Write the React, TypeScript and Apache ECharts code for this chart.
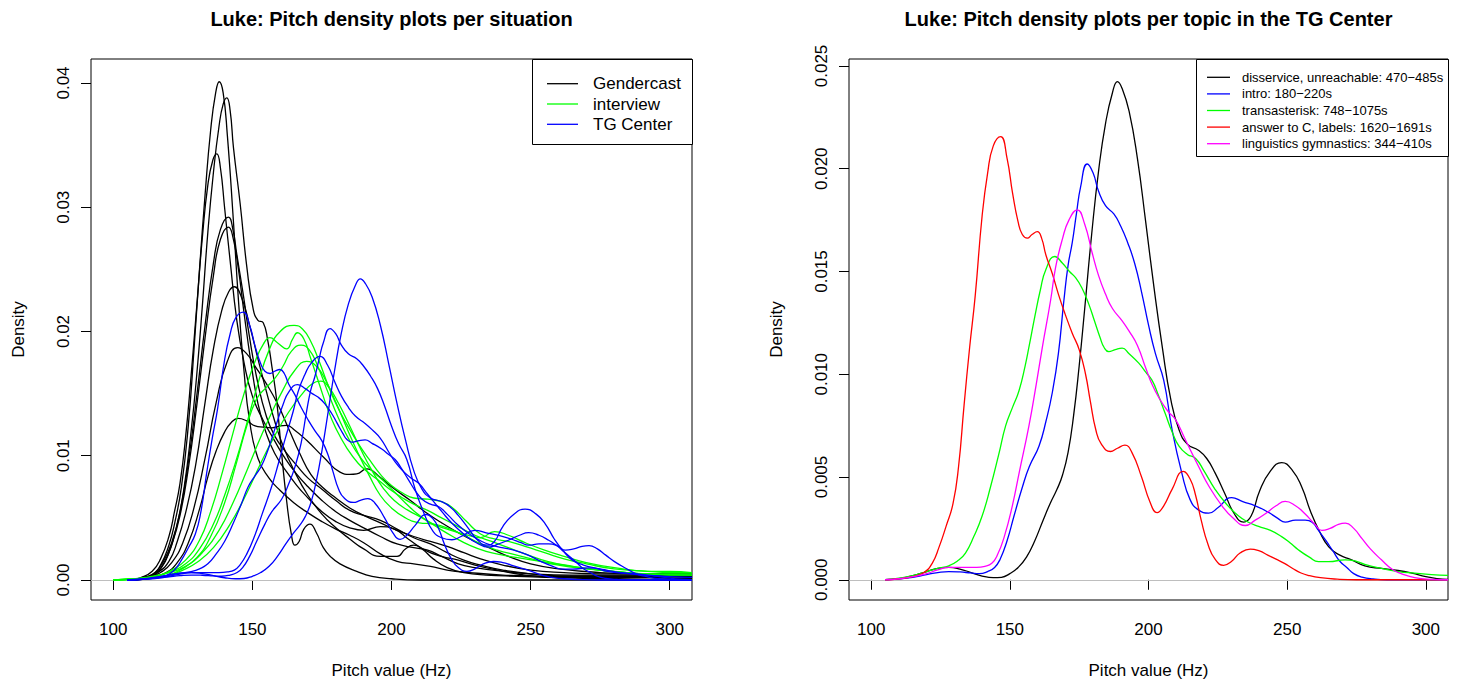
import React, { useEffect, useRef } from "react";
import * as echarts from "echarts";

type Pt = [number, number];

const FONT = "'Liberation Sans', Arial, Helvetica, sans-serif";

// ---------- tick values ----------
const xTicks = [100, 150, 200, 250, 300];
const leftYTicks = [0, 0.01, 0.02, 0.03, 0.04];
const rightYTicks = [0, 0.005, 0.01, 0.015, 0.02, 0.025];

// ---------- left panel: situations ----------
const situationNames = ["Gendercast", "interview", "TG Center"];
const situationColors = ["#000000", "#00ff00", "#0000ff"];

const gendercast1: Pt[] = [[106,0],[110,0.0001],[114,0.0004],[117,0.0012],[120,0.0028],[122,0.0045],[124.5,0.0075],[127,0.0125],[129,0.0185],[131,0.025],[133,0.031],[135,0.0362],[136.8,0.0392],[138.1,0.0401],[139.5,0.0392],[141,0.0358],[143,0.0295],[145,0.0225],[147,0.0168],[149,0.0128],[152,0.0098],[156,0.0082],[160,0.0072],[165,0.0062],[170,0.0054],[175,0.0047],[180,0.0041],[185,0.0036],[190,0.003],[196,0.0021],[202,0.0015],[208,0.0013],[214,0.0011],[220,0.0008],[228,0.0006],[240,0.0004],[255,0.0003],[270,0.0003],[285,0.0003],[300,0.0003],[308,0.0003]];
const gendercast2: Pt[] = [[106,0],[110,0.0001],[114,0.0003],[117,0.0009],[120,0.0022],[123,0.0045],[125.5,0.0075],[128,0.012],[130,0.0165],[132,0.022],[134,0.028],[136,0.0328],[138,0.0365],[139.5,0.0383],[140.8,0.0388],[142,0.0378],[143.2,0.0348],[145.6,0.0303],[148,0.0252],[150.3,0.0218],[152,0.0209],[153.9,0.0207],[155.5,0.0193],[157,0.0172],[158.7,0.0145],[160.5,0.0102],[162.3,0.0064],[164,0.0037],[165.3,0.0028],[166.8,0.0031],[168.5,0.0041],[170.7,0.0045],[173,0.0038],[175.5,0.0026],[178,0.0019],[181.5,0.0013],[187.5,0.0007],[193,0.0003],[200,0.0001],[210,0],[308,0]];
const gendercast3: Pt[] = [[106,0],[110,0.0002],[114,0.0007],[117,0.0017],[120,0.0035],[122,0.0055],[124,0.0078],[126,0.0115],[128,0.0165],[130,0.022],[132,0.0275],[134,0.0318],[135.8,0.0338],[137.2,0.0343],[138.5,0.0332],[140,0.03],[142,0.0257],[144.4,0.0209],[147,0.0175],[150,0.0148],[154,0.0128],[158,0.0112],[162,0.0097],[166,0.0085],[170,0.0075],[175,0.0064],[180,0.0055],[185,0.0048],[190,0.0042],[196,0.0035],[202,0.0029],[208,0.0026],[213,0.0024],[218,0.0019],[224,0.0013],[230,0.001],[240,0.0007],[250,0.0005],[265,0.0004],[280,0.0004],[295,0.0004],[308,0.0004]];
const gendercast4: Pt[] = [[107,0],[111,0.0002],[115,0.0006],[118,0.0015],[121,0.003],[124,0.0055],[127,0.0095],[130,0.0148],[133,0.0205],[136,0.0255],[138.5,0.0282],[141.4,0.0292],[143,0.0282],[144.4,0.0262],[146.7,0.023],[149,0.0195],[152,0.0158],[155,0.0132],[158,0.0116],[162,0.0103],[166,0.0092],[170,0.0082],[175,0.0073],[180,0.0064],[185,0.0056],[190,0.0052],[196,0.0048],[202,0.0041],[208,0.0034],[214,0.0029],[220,0.0022],[226,0.0016],[232,0.0012],[240,0.0008],[250,0.0005],[265,0.0003],[280,0.0003],[295,0.0003],[308,0.0002]];
const gendercast5: Pt[] = [[107,0],[111,0.0002],[115,0.0005],[118,0.0013],[121,0.0028],[124,0.0052],[127,0.009],[130,0.014],[133,0.0195],[136,0.0245],[138.5,0.0274],[141.4,0.0284],[143,0.0276],[145,0.025],[147,0.0215],[149.5,0.0175],[152,0.0142],[155,0.0118],[158,0.0102],[162,0.0088],[166,0.0076],[170,0.0066],[175,0.0055],[180,0.0047],[185,0.0042],[190,0.004],[196,0.0043],[201,0.0041],[206,0.0033],[212,0.0024],[218,0.0019],[224,0.0016],[230,0.0012],[238,0.0008],[248,0.0004],[260,0.0002],[275,0.0001],[290,0.0002],[308,0.0003]];
const gendercast6: Pt[] = [[107,0],[112,0.0002],[116,0.0006],[120,0.0015],[123,0.0031],[126,0.0054],[129.5,0.0091],[133,0.0143],[136,0.0186],[139,0.0217],[141.5,0.0232],[143.5,0.0236],[146,0.0228],[149,0.0205],[152,0.0178],[155,0.0152],[158,0.0128],[161,0.0108],[165,0.0088],[170,0.0068],[175,0.0053],[180,0.0042],[185,0.0033],[190,0.0025],[196,0.0019],[202,0.0019],[205,0.0025],[208,0.0028],[211,0.0025],[215,0.0017],[220,0.001],[226,0.0006],[234,0.0004],[245,0.0003],[260,0.0002],[280,0.0002],[308,0.0001]];
const gendercast7: Pt[] = [[108,0],[113,0.0002],[117,0.0006],[121,0.0014],[125,0.003],[129,0.0058],[133,0.0098],[137,0.0143],[141,0.0176],[144.7,0.0187],[148,0.0182],[151,0.0172],[155,0.0158],[159,0.0142],[163,0.0122],[167,0.0102],[171,0.0085],[175,0.0075],[180,0.0066],[185,0.0058],[190,0.0052],[196,0.0046],[202,0.004],[208,0.0035],[214,0.0031],[220,0.0027],[226,0.0022],[232,0.0017],[240,0.0012],[250,0.0008],[262,0.0006],[275,0.0005],[290,0.0005],[308,0.0005]];
const gendercast8: Pt[] = [[106,0],[114,0.0002],[119,0.0006],[123,0.0014],[127,0.003],[131,0.0057],[134,0.0083],[137,0.0104],[140,0.0119],[142.5,0.0127],[144.9,0.013],[148,0.0128],[151,0.0124],[153.9,0.0123],[157,0.01225],[160,0.0124],[162.3,0.01244],[165,0.0121],[169.5,0.01124],[175.5,0.0099],[181.5,0.00868],[185,0.0085],[187.5,0.00854],[191.1,0.00894],[195.9,0.00827],[200,0.0075],[206.7,0.00641],[212,0.0055],[218,0.0046],[224,0.0038],[230,0.0031],[236,0.0025],[242,0.0019],[250,0.0013],[260,0.0009],[275,0.0006],[290,0.0005],[308,0.0005]];

const interview1: Pt[] = [[100,0],[108,0.0001],[115,0.0003],[121,0.0007],[126,0.0013],[131,0.0025],[136,0.0045],[140,0.0068],[144,0.0095],[148,0.0126],[152,0.0158],[156,0.0185],[160,0.02],[165,0.0205],[168,0.0202],[171,0.0192],[174,0.0176],[177,0.0158],[180,0.0142],[184,0.0125],[188,0.011],[192,0.0097],[196,0.0085],[200,0.0076],[204,0.007],[208,0.0066],[213,0.0065],[218,0.0063],[222,0.0058],[227,0.0047],[232,0.0037],[237,0.0033],[242,0.0031],[248,0.0027],[255,0.0022],[262,0.0017],[270,0.0013],[280,0.0009],[292,0.0007],[300,0.0006],[308,0.0006]];
const interview2: Pt[] = [[100,0],[108,0.0001],[115,0.0003],[121,0.0008],[126,0.0016],[131,0.0032],[135,0.0055],[139,0.0085],[143,0.0118],[147,0.015],[151,0.0176],[154,0.019],[156.3,0.0195],[159,0.0191],[162.3,0.0186],[164.5,0.0194],[166.2,0.0199],[168.5,0.0194],[171,0.0178],[174,0.0158],[177,0.0138],[180,0.0122],[184,0.0106],[188,0.0094],[192,0.0086],[196,0.0079],[200,0.0072],[204,0.0066],[208,0.0061],[213,0.0056],[218,0.005],[224,0.0043],[230,0.0036],[236,0.0031],[242,0.0026],[248,0.0021],[256,0.0015],[265,0.0011],[275,0.0008],[290,0.0005],[308,0.0004]];
const interview3: Pt[] = [[100,0],[108,0.0001],[115,0.0002],[120,0.0004],[124,0.0008],[130,0.0018],[135,0.0035],[140,0.0062],[144,0.0092],[148,0.0124],[151.6,0.0146],[155,0.0155],[158,0.0162],[161,0.0172],[164,0.0184],[167.5,0.0189],[170.5,0.0185],[173.5,0.0172],[177,0.0152],[181,0.013],[185,0.0112],[189,0.0098],[193,0.0088],[197,0.008],[201,0.0071],[205,0.0062],[210,0.0052],[215,0.0045],[220,0.0041],[226,0.0037],[232,0.0034],[237,0.0039],[242,0.0036],[248,0.003],[255,0.0024],[262,0.0019],[270,0.0014],[280,0.001],[292,0.0007],[300,0.0007],[308,0.0006]];
const interview4: Pt[] = [[102,0],[108,0.0001],[114,0.0003],[120,0.0006],[126,0.0011],[132,0.0022],[138,0.004],[143,0.0062],[148,0.0088],[153,0.0115],[157,0.0135],[161,0.0153],[165,0.0168],[169.5,0.0176],[173,0.0172],[176.5,0.016],[180,0.0143],[184,0.0122],[188,0.0102],[192,0.0084],[196,0.0068],[200,0.0058],[205,0.005],[210,0.0046],[215,0.0045],[220,0.0042],[226,0.0036],[232,0.0029],[238,0.0024],[245,0.002],[252,0.0016],[260,0.0012],[270,0.0009],[280,0.0007],[292,0.0005],[300,0.0005],[308,0.0005]];
const interview5: Pt[] = [[100,0],[108,0.0001],[114,0.0002],[120,0.0004],[125,0.0008],[130,0.0014],[136,0.0026],[142,0.0045],[148,0.007],[153,0.0094],[158,0.0116],[163,0.0135],[168,0.015],[171.5,0.0158],[174.5,0.016],[177.5,0.0155],[181,0.0142],[185,0.0124],[189,0.0105],[193,0.0088],[197,0.0074],[201,0.0064],[206,0.0056],[211,0.005],[216,0.0043],[222,0.0035],[228,0.0028],[234,0.0023],[240,0.002],[248,0.0017],[256,0.0014],[265,0.0011],[275,0.0008],[290,0.0005],[308,0.0004]];

const gendercastCurves = [gendercast1, gendercast2, gendercast3, gendercast4, gendercast5, gendercast6, gendercast7, gendercast8];
const interviewCurves = [interview1, interview2, interview3, interview4, interview5];

// ---------- right panel: topics in the TG Center ----------
const topicNames = [
  "disservice, unreachable: 470\u2212485s",
  "intro: 180\u2212220s",
  "transasterisk: 748\u22121075s",
  "answer to C, labels: 1620\u22121691s",
  "linguistics gymnastics: 344\u2212410s",
];
const topicColors = ["#000000", "#0000ff", "#00ff00", "#ff0000", "#ff00ff"];

const disservice: Pt[] = [[105,0],[110,0.00005],[115,0.0002],[120,0.0004],[124,0.00055],[128,0.0006],[132,0.00052],[136,0.00035],[140,0.00018],[144,0.0001],[147,0.00012],[150,0.0003],[153,0.0006],[156,0.0011],[159,0.0019],[162,0.0029],[164.5,0.0037],[167,0.0044],[169,0.0051],[171,0.0062],[173,0.008],[175,0.0104],[177,0.0132],[179.5,0.0168],[182,0.0199],[184.5,0.0222],[187,0.0237],[188.8,0.02424],[190.5,0.0239],[193,0.0228],[196,0.0205],[199,0.0174],[202,0.0142],[205,0.0113],[208,0.0088],[211,0.0073],[214,0.0066],[218,0.0063],[221,0.0059],[224,0.0052],[227.5,0.0042],[231,0.0032],[234.3,0.0028],[237,0.0031],[240,0.0043],[244,0.0053],[248,0.0057],[252,0.0053],[255.3,0.0045],[258.5,0.0033],[261.5,0.0024],[265,0.0016],[269,0.0012],[273,0.00098],[278,0.00068],[284,0.00055],[290,0.00045],[295,0.00032],[300,0.00015],[304,0.00006],[308,0.00002]];
const intro: Pt[] = [[105,0],[110,0.00004],[115,0.00012],[120,0.00025],[124,0.00035],[128,0.0004],[132,0.00038],[136,0.00033],[139,0.0003],[142,0.0004],[144.5,0.0006],[146.5,0.001],[149,0.0019],[151.5,0.0031],[154.5,0.0045],[157,0.0055],[160.5,0.0065],[163,0.0077],[165.3,0.0091],[167.5,0.011],[169.5,0.0136],[171,0.0153],[172.5,0.0164],[174,0.0178],[175.5,0.0191],[177.9,0.02023],[180,0.0198],[182,0.0189],[184.5,0.0182],[187.5,0.0178],[190,0.0172],[192.5,0.0164],[195,0.0154],[197.5,0.014],[200,0.0124],[202.5,0.011],[205.5,0.0097],[208.5,0.0073],[212,0.0052],[215,0.0039],[218,0.0034],[221.7,0.00324],[225,0.0035],[230,0.004],[234,0.0038],[238.5,0.0036],[243,0.0033],[246.5,0.003],[249.3,0.0028],[253,0.0029],[256.5,0.0029],[259,0.0028],[261.3,0.0024],[264,0.0019],[266.5,0.0014],[269,0.0009],[271.5,0.0006],[274,0.0003],[277,0.00013],[281,0.00004],[286,0],[308,0]];
const transasterisk: Pt[] = [[105,0],[110,0.00008],[115,0.0002],[120,0.0004],[124,0.00055],[128,0.00068],[131,0.0009],[134,0.0013],[137,0.0021],[140,0.0031],[143,0.0045],[146,0.0061],[148.5,0.0075],[151,0.0084],[153.3,0.0092],[155.5,0.0104],[157,0.0114],[159,0.0128],[161,0.0141],[163,0.0151],[166.2,0.01573],[169,0.0154],[171.5,0.015],[173.7,0.0147],[176,0.0142],[178.5,0.0134],[180.5,0.0126],[182.5,0.0118],[184,0.0113],[185.7,0.0111],[188,0.0112],[190.5,0.01127],[193,0.011],[196.5,0.01054],[199,0.0101],[201.3,0.0097],[203.5,0.009],[206,0.0081],[208.5,0.0072],[211,0.0065],[214,0.0061],[217,0.0059],[220,0.0053],[224,0.0044],[228,0.0037],[232.5,0.0031],[236,0.0028],[239.7,0.0026],[244,0.0024],[248,0.0021],[251,0.0018],[254,0.00146],[258,0.0011],[261.3,0.00088],[265,0.00088],[270.9,0.00097],[275,0.0009],[278,0.00075],[284,0.00055],[290,0.0004],[296,0.00032],[302,0.00025],[308,0.00021]];
const answerToC: Pt[] = [[105,0],[110,0.00005],[115,0.00015],[119,0.00035],[122,0.0008],[124.5,0.0016],[127,0.0026],[129.5,0.0037],[131.5,0.0055],[133.5,0.0085],[135.5,0.0113],[137.5,0.0138],[140,0.0177],[142,0.0198],[144,0.0211],[146.7,0.02156],[149,0.0205],[151,0.0188],[153,0.0174],[154.5,0.0168],[156.3,0.01662],[158,0.0168],[159.9,0.01694],[161.5,0.0166],[163,0.0158],[165.3,0.0149],[167.5,0.0139],[170,0.0129],[172.5,0.012],[175,0.0112],[177.3,0.01],[179,0.0087],[181,0.0073],[183,0.0066],[186.3,0.00624],[188.8,0.0064],[191.5,0.00655],[194,0.0062],[197.5,0.005],[200.5,0.0038],[203.1,0.00327],[205.5,0.0036],[208.5,0.0044],[212.5,0.00527],[215,0.0049],[217,0.0041],[219,0.0029],[221.5,0.0017],[224,0.001],[227.1,0.0007],[230,0.0009],[233,0.0013],[236.7,0.00149],[240,0.0014],[243,0.0012],[246,0.001],[249,0.0008],[252,0.00055],[255,0.00033],[258,0.0002],[262,0.0001],[268,0.00003],[275,0],[308,0]];
const linguistics: Pt[] = [[105,0],[110,0.00005],[115,0.00015],[120,0.0003],[124,0.00048],[128,0.0006],[133,0.0006],[138,0.0006],[141,0.00065],[143.5,0.0008],[145.5,0.0012],[148,0.0021],[150.9,0.0036],[153.5,0.0053],[156.9,0.0075],[159.5,0.0095],[161.7,0.0113],[164.7,0.0136],[166.5,0.0152],[169,0.0166],[171.3,0.0175],[174.3,0.018],[177,0.0173],[179.7,0.0159],[182,0.0148],[184.5,0.0139],[187,0.0132],[190.5,0.0126],[193,0.0121],[196,0.0114],[199,0.0103],[201.3,0.0095],[204,0.0088],[207,0.0082],[209.7,0.0078],[213,0.0069],[218.1,0.0055],[222,0.0045],[226.5,0.0036],[230.5,0.003],[234.9,0.00264],[238.5,0.0029],[242,0.0032],[246,0.0036],[249.3,0.00381],[253,0.0036],[256.5,0.0032],[260,0.0027],[262.5,0.0024],[265.5,0.0025],[268.5,0.0027],[271,0.00276],[274,0.0025],[277,0.002],[280,0.0015],[284,0.00097],[288,0.0005],[291.3,0.00029],[296,0.0001],[302,0.00002],[308,0]];

const topicCurves = [disservice, intro, transasterisk, answerToC, linguistics];

const titles = [
  "Luke: Pitch density plots per situation",
  "Luke: Pitch density plots per topic in the TG Center",
];

// ---------- layout ----------
const GRIDS = [
  { left: 91, top: 59, width: 601, height: 541 },
  { left: 849, top: 59, width: 599, height: 541 },
];

function lineSeries(name: string, data: Pt[], color: string, idx: number, withZero: boolean) {
  const s: any = {
    type: "line",
    name,
    data,
    xAxisIndex: idx,
    yAxisIndex: idx,
    showSymbol: false,
    symbol: "none",
    smooth: 0.5,
    clip: true,
    silent: true,
    lineStyle: { color, width: 1.3 },
    itemStyle: { color },
    emphasis: { disabled: true },
  };
  if (withZero) {
    s.markLine = {
      silent: true,
      symbol: "none",
      label: { show: false },
      lineStyle: { color: "#bebebe", type: "solid", width: 1.2 },
      data: [{ yAxis: 0 }],
      z: 1,
    };
  }
  return s;
}

function legendGraphic(
  box: { x: number; y: number; w: number; h: number },
  lineX1: number,
  lineX2: number,
  textX: number,
  rowY0: number,
  rowGap: number,
  names: string[],
  colors: string[],
  fontSize: number
) {
  const items: any[] = [
    {
      type: "rect",
      shape: { x: box.x + 0.5, y: box.y + 0.5, width: box.w, height: box.h },
      style: { fill: "#ffffff", stroke: "#000000", lineWidth: 1 },
      z: 100,
    },
  ];
  names.forEach((n, i) => {
    const y = rowY0 + i * rowGap;
    items.push({
      type: "line",
      shape: { x1: lineX1, y1: y, x2: lineX2, y2: y },
      style: { stroke: colors[i], lineWidth: 1.3 },
      z: 101,
    });
    items.push({
      type: "text",
      x: textX,
      y,
      style: { text: n, fill: "#000000", fontSize, fontFamily: FONT, align: "left", verticalAlign: "middle" },
      z: 101,
    });
  });
  return items;
}

export default function App() {
  const ref = useRef<HTMLDivElement>(null);

  useEffect(() => {
    if (!ref.current) return;
    const chart = echarts.init(ref.current, undefined, { renderer: "svg" });

    const axisText = { fontSize: 17, color: "#000000", fontFamily: FONT };

    const xAxes = [0, 1].map((i) => ({
      type: "value",
      gridIndex: i,
      min: 92,
      max: 308,
      axisLine: { show: false },
      axisTick: { show: true, inside: false, length: 10, customValues: xTicks, lineStyle: { color: "#000000", width: 1 } },
      axisLabel: { show: true, customValues: xTicks, margin: 21, ...axisText },
      splitLine: { show: false },
      name: "Pitch value (Hz)",
      nameLocation: "middle",
      nameGap: 62,
      nameTextStyle: axisText,
    }));

    const yTickSets = [leftYTicks, rightYTicks];
    const yRanges = [
      [-0.00161, 0.04193],
      [-0.000985, 0.02534],
    ];
    const yDigits = [2, 3];
    const yAxes = [0, 1].map((i) => ({
      type: "value",
      gridIndex: i,
      min: yRanges[i][0],
      max: yRanges[i][1],
      axisLine: { show: false },
      axisTick: { show: true, inside: false, length: 10, customValues: yTickSets[i], lineStyle: { color: "#000000", width: 1 } },
      axisLabel: {
        show: true,
        customValues: yTickSets[i],
        rotate: 90,
        margin: 19,
        formatter: (v: number) => Number(v).toFixed(yDigits[i]),
        ...axisText,
      },
      splitLine: { show: false },
      name: "Density",
      nameLocation: "middle",
      nameGap: 64,
      nameRotate: 90,
      nameTextStyle: axisText,
    }));

    const series: any[] = [];
    gendercastCurves.forEach((c, k) => series.push(lineSeries(situationNames[0], c, situationColors[0], 0, k === 0)));
    interviewCurves.forEach((c) => series.push(lineSeries(situationNames[1], c, situationColors[1], 0, false)));
    topicCurves.forEach((c) => series.push(lineSeries(situationNames[2], c, situationColors[2], 0, false)));
    topicCurves.forEach((c, k) => series.push(lineSeries(topicNames[k], c, topicColors[k], 1, k === 0)));

    const graphic: any[] = [
      {
        type: "text",
        x: GRIDS[0].left + GRIDS[0].width / 2,
        y: 19,
        style: { text: titles[0], fill: "#000000", fontSize: 20, fontWeight: "bold", fontFamily: FONT, align: "center", verticalAlign: "middle" },
      },
      {
        type: "text",
        x: GRIDS[1].left + GRIDS[1].width / 2,
        y: 19,
        style: { text: titles[1], fill: "#000000", fontSize: 20, fontWeight: "bold", fontFamily: FONT, align: "center", verticalAlign: "middle" },
      },
      ...legendGraphic({ x: 532, y: 59, w: 160, h: 85 }, 547, 578, 593, 83.7, 20.3, situationNames, situationColors, 17),
      ...legendGraphic({ x: 1196, y: 59, w: 252, h: 97 }, 1207, 1230, 1242, 77.3, 16.6, topicNames, topicColors, 13),
    ];

    chart.setOption({
      animation: false,
      backgroundColor: "#ffffff",
      textStyle: { fontFamily: FONT },
      grid: GRIDS.map((g) => ({
        ...g,
        show: true,
        borderColor: "#000000",
        borderWidth: 1,
        backgroundColor: "transparent",
        containLabel: false,
        outerBoundsMode: "none",
      })),
      xAxis: xAxes,
      yAxis: yAxes,
      series,
      graphic,
    } as any);

    return () => chart.dispose();
  }, []);

  return (
    <div
      ref={ref}
      style={{ position: "absolute", left: 0, top: 0, width: 1462, height: 683, background: "#ffffff" }}
    />
  );
}
